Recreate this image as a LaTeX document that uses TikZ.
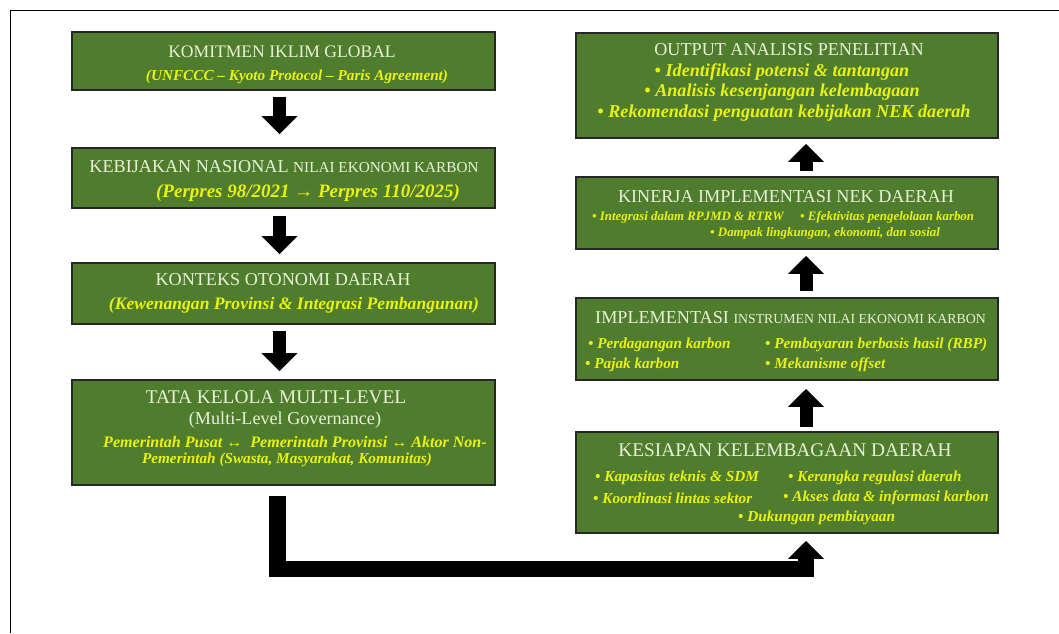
\documentclass[tikz,border=0pt]{standalone}
\usepackage{fontspec}
\setmainfont{Liberation Serif}
\usetikzlibrary{arrows.meta,calc}
\definecolor{boxgreen}{RGB}{80,125,45}
\definecolor{titlegreen}{RGB}{230,242,216}
\definecolor{noteyellow}{RGB}{232,242,20}
\begin{document}
\begin{tikzpicture}[x=0.03cm,y=-0.03cm,
        panel/.style={draw=black!85,line width=1.6pt,fill=boxgreen},
        headtext/.style={text=titlegreen,inner sep=0pt,font=\fontsize{15.5}{17}\selectfont},
        notetext/.style={text=noteyellow,inner sep=0pt,font=\bfseries\itshape\fontsize{13}{15}\selectfont},
        bignote/.style={notetext,font=\bfseries\itshape\fontsize{15}{17}\selectfont},
        tinytext/.style={notetext,font=\bfseries\itshape\fontsize{11}{13}\selectfont},
        flow/.style={line width=0.39cm,-{Triangle[width=1.05cm,length=0.54cm]}}]
        \useasboundingbox (0,0) rectangle (1059,633);
        \draw[line width=0.6pt] (10,633) |- (1059,10);

        % left column
        \node[panel,minimum width=12.69cm,minimum height=1.74cm] (komitmen) at (283.5,61) {};
        \node[panel,minimum width=12.69cm,minimum height=1.80cm] (kebijakan) at (283.5,178) {};
        \node[panel,minimum width=12.69cm,minimum height=1.83cm] (konteks) at (283.5,293.5) {};
        \node[panel,minimum width=12.69cm,minimum height=3.15cm] (tatakelola) at (283.5,432.5) {};

        \node[headtext,font=\fontsize{15}{17}\selectfont] (komitmenT) at (282,52) {KOMITMEN IKLIM GLOBAL};
        \node[notetext] (komitmenS) at (297,77) {(UNFCCC – Kyoto Protocol – Paris Agreement)};
        \node[headtext] (kebijakanT) at (284,167) {KEBIJAKAN NASIONAL {\fontsize{13}{15}\selectfont NILAI EKONOMI KARBON}};
        \node[bignote,font=\bfseries\itshape\fontsize{16.2}{18}\selectfont] (kebijakanS) at (308,193) {(Perpres 98/2021 → Perpres 110/2025)};
        \node[headtext] (konteksT) at (283,280) {KONTEKS OTONOMI DAERAH};
        \node[bignote] (konteksS) at (294,305) {(Kewenangan Provinsi \& Integrasi Pembangunan)};
        \node[headtext,font=\fontsize{16.5}{18}\selectfont] (tatakelolaT) at (276,397) {TATA KELOLA MULTI-LEVEL};
        \node[headtext] (tatakelolaG) at (285,420) {(Multi-Level Governance)};
        \node[notetext,font=\bfseries\itshape\fontsize{13.7}{15}\selectfont,anchor=west] (tatakelolaA) at (103,442) {Pemerintah Pusat ↔~ Pemerintah Provinsi ↔ Aktor Non-};
        \node[notetext] (tatakelolaB) at (287,460) {Pemerintah (Swasta, Masyarakat, Komunitas)};

        % right column
        \node[panel,minimum width=12.66cm,minimum height=3.15cm] (output) at (787,85.5) {};
        \node[panel,minimum width=12.66cm,minimum height=2.16cm] (kinerja) at (787,213) {};
        \node[panel,minimum width=12.66cm,minimum height=2.46cm] (implementasi) at (787,339) {};
        \node[panel,minimum width=12.66cm,minimum height=3.03cm] (kesiapan) at (787,482.5) {};

        \node[headtext] (outputT) at (789,50) {OUTPUT ANALISIS PENELITIAN};
        \node[bignote,font=\bfseries\itshape\fontsize{15.5}{17}\selectfont] (outputA) at (782,72) {• Identifikasi potensi \& tantangan};
        \node[bignote,font=\bfseries\itshape\fontsize{15.5}{17}\selectfont] (outputB) at (782,92) {• Analisis kesenjangan kelembagaan};
        \node[bignote,font=\bfseries\itshape\fontsize{15.5}{17}\selectfont] (outputC) at (784,113) {• Rekomendasi penguatan kebijakan NEK daerah};

        \node[headtext] (kinerjaT) at (786,197) {KINERJA IMPLEMENTASI NEK DAERAH};
        \node[tinytext,anchor=west] (kinerjaA) at (592,217) {• Integrasi dalam RPJMD \& RTRW};
        \node[tinytext,anchor=west] (kinerjaB) at (800,217) {• Efektivitas pengelolaan karbon};
        \node[tinytext,anchor=west] (kinerjaC) at (710,233) {• Dampak lingkungan, ekonomi, dan sosial};

        \node[headtext,anchor=west] (implementasiT) at (595,318) {IMPLEMENTASI {\fontsize{11.8}{13}\selectfont INSTRUMEN NILAI EKONOMI KARBON}};
        \node[notetext,anchor=west] (implementasiA) at (588,345) {• Perdagangan karbon};
        \node[notetext,anchor=west] (implementasiB) at (765,345) {• Pembayaran berbasis hasil (RBP)};
        \node[notetext,anchor=west] (implementasiC) at (585,365) {• Pajak karbon};
        \node[notetext,anchor=west] (implementasiD) at (765,365) {• Mekanisme offset};

        \node[headtext,font=\fontsize{16.5}{18}\selectfont] (kesiapanT) at (785,450) {KESIAPAN KELEMBAGAAN DAERAH};
        \node[notetext,anchor=west] (kesiapanA) at (595,478) {• Kapasitas teknis \& SDM};
        \node[notetext,anchor=west] (kesiapanB) at (788,478) {• Kerangka regulasi daerah};
        \node[notetext,anchor=west] (kesiapanC) at (593,498) {• Koordinasi lintas sektor};
        \node[notetext,anchor=west] (kesiapanD) at (783,498) {• Akses data \& informasi karbon};
        \node[notetext,anchor=west] (kesiapanE) at (738,518) {• Dukungan pembiayaan};

        % arrows
        \draw[flow] ($(komitmen.south)+(-4,6)$) -- ($(kebijakan.north)+(-4,-13)$);
        \draw[flow] ($(kebijakan.south)+(-4,7)$) -- ($(konteks.north)+(-4,-8)$);
        \draw[flow] ($(konteks.south)+(-4,6)$) -- ($(tatakelola.north)+(-4,-8)$);
        \draw[flow] ($(kinerja.north)+(19,-5)$) -- ($(output.south)+(19,5)$);
        \draw[flow] ($(implementasi.north)+(19,-6)$) -- ($(kinerja.south)+(19,6)$);
        \draw[flow] ($(kesiapan.north)+(19,-4)$) -- ($(implementasi.south)+(19,8)$);
        \draw[flow,line width=0.5cm] ($(tatakelola.south)+(-6,10)$) |- ($(kesiapan.south)+(19,35)$) -- ($(kesiapan.south)+(19,7)$);
\end{tikzpicture}
\end{document}
